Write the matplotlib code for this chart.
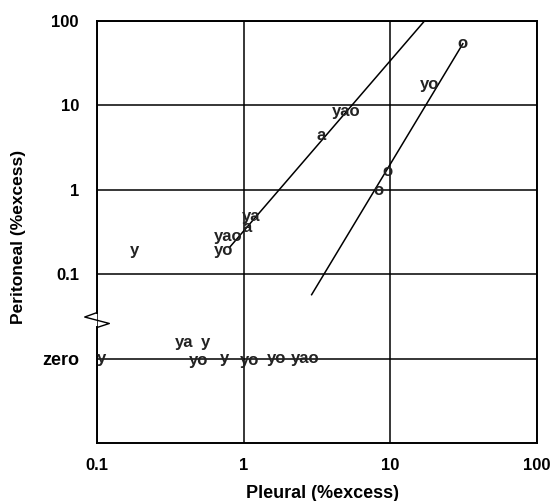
import matplotlib
matplotlib.use("Agg")
import matplotlib.pyplot as plt
import matplotlib.transforms as mtransforms

plt.rcParams['font.family'] = ['Liberation Sans', 'DejaVu Sans']
plt.rcParams['font.weight'] = 'bold'

# point labels (pleural, peritoneal, text); zero row sits at 0.01
label_x = [0.18, 0.73, 0.79, 1.13, 1.05, 3.4, 4.97, 18.6, 31.0, 9.5, 8.3,
           0.107, 0.395, 0.55, 0.49, 0.74, 1.1, 1.68, 2.65]
label_y = [0.19, 0.19, 0.278, 0.48, 0.355, 4.36, 8.4, 17.5, 53.0, 1.63, 0.98,
           0.01, 0.0155, 0.0155, 0.0095, 0.01, 0.0095, 0.01, 0.01]
label_txt = ['y', 'yo', 'yao', 'ya', 'a', 'a', 'yao', 'yo', 'o', 'o', 'o',
             'y', 'ya', 'y', 'yo', 'y', 'yo', 'yo', 'yao']

# regression lines
line1_x = [0.80, 17.2]
line1_y = [0.206, 100]
line2_x = [2.91, 31.3]
line2_y = [0.057, 53.4]

y_ticks = [100, 10, 1, 0.1, 0.01]
y_tick_labels = ['100', '10', '1', '0.1', 'zero']
x_ticks = [0.1, 1, 10, 100]
x_tick_labels = ['0.1', '1', '10', '100']

fig = plt.figure(figsize=(5.5, 5.01), dpi=100)
ax = fig.add_axes([0.1764, 0.1158, 0.7996, 0.8429])
ax.set_xscale('log')
ax.set_yscale('log')
ax.set_xlim(0.1, 100)
ax.set_ylim(0.001, 100)

ax.plot(line1_x, line1_y, color='black', lw=1.1)
ax.plot(line2_x, line2_y, color='black', lw=1.1)

for x, y, t in zip(label_x, label_y, label_txt):
    ax.text(x, y, t, ha='center', va='center', fontsize=12, fontweight='bold',
            color='#222222')

ax.set_xticks(x_ticks)
ax.set_xticklabels(x_tick_labels)
ax.set_yticks(y_ticks)
ax.set_yticklabels(y_tick_labels)
ax.minorticks_off()
ax.tick_params(length=0, labelsize=12, pad=11)
ax.tick_params(axis='y', pad=13)
for lab in ax.get_yticklabels():
    if lab.get_text() == 'zero':
        lab.set_fontsize(13)
ax.grid(True, which='major', color='black', lw=1.1)
ax.set_axisbelow(True)

for s in ['top', 'right', 'bottom']:
    ax.spines[s].set_linewidth(1.4)
ax.spines['left'].set_visible(False)

# left axis with break mark
trans = mtransforms.blended_transform_factory(ax.transAxes, ax.transData)
ax.plot([0, 0], [100, 0.035], color='black', lw=1.4, transform=trans, clip_on=False)
ax.plot([0, -0.028, 0.028, 0], [0.035, 0.031, 0.026, 0.0233], color='black',
        lw=1.0, transform=trans, clip_on=False)
ax.plot([0, 0], [0.0233, 0.001], color='black', lw=1.4, transform=trans, clip_on=False)

ax.set_xlabel('Pleural (%excess)', fontsize=13, fontweight='bold', va='center')
ax.set_ylabel('Peritoneal (%excess)', fontsize=12.5, fontweight='bold', va='center')
ax.xaxis.set_label_coords(0.513, -0.12)
ax.yaxis.set_label_coords(-0.178, 0.488)

fig.savefig('out.png', dpi=100)
